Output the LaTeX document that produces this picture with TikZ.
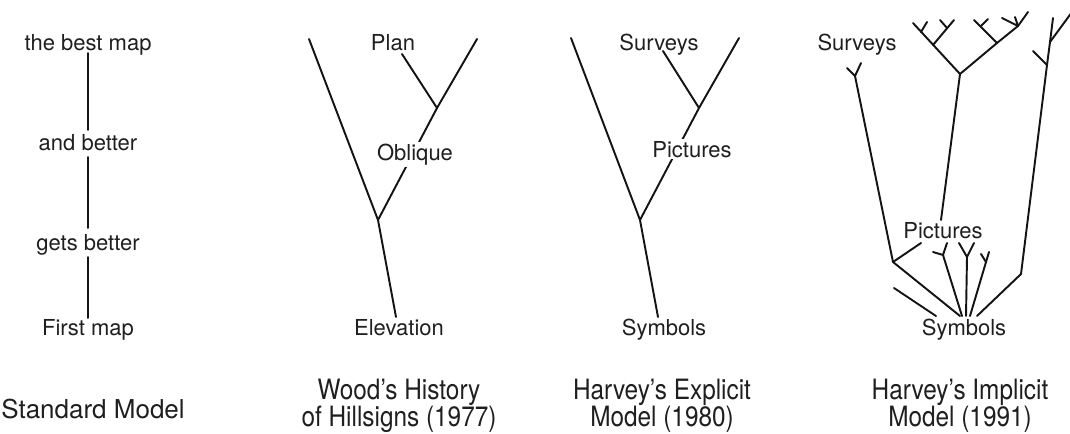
\documentclass[tikz,border=0pt]{standalone}
\usepackage{fontspec}
\setmainfont{TeX Gyre Heros}
\newfontfamily\condfont[FakeStretch=0.87]{TeX Gyre Heros}
\usetikzlibrary{calc}
\begin{document}
\begin{tikzpicture}[x=0.75pt,y=-0.75pt,
  lbl/.style={font=\fontsize{16.5}{19}\selectfont, inner sep=0pt, anchor=base, text=black!88},
  bglbl/.style={lbl, fill=white, inner sep=1.5pt},
  captxt/.style={font=\condfont\fontsize{21}{20}\selectfont, inner sep=0pt, anchor=base, align=center, text=black!88},
  stdcap/.style={font=\fontsize{19.5}{22}\selectfont, inner sep=0pt, anchor=base, text=black!88},
  br/.style={line width=1.45pt, line cap=round, line join=round, black!92}]
\useasboundingbox (0,0) rectangle (1070,433);

% ---------- Panel 1: Standard Model ----------
\node[lbl] (best) at (88,50) {the best map};
\node[lbl] (and) at (88,150) {and better};
\node[lbl] (gets) at (88,250) {gets better};
\node[lbl] (first) at (88,335) {First map};
\node[stdcap] (c1) at (93,418) {Standard Model};
\draw[br] ($(best.base)+(0,3)$) -- ($(and.base)+(0,-20)$);
\draw[br] ($(and.base)+(0,7)$) -- ($(gets.base)+(0,-22)$);
\draw[br] ($(gets.base)+(0,7)$) -- ($(first.base)+(0,-17)$);

% ---------- Panel 2: Wood ----------
\coordinate (wL) at (309,39);
\coordinate (wJ) at (378,220);
\coordinate (wB) at (396,317);
\coordinate (wK) at (437,108);
\coordinate (wR) at (477,39);
\coordinate (wP) at (402,54);
\draw[br] (wL) -- (wJ) -- (wB);
\draw[br] (wJ) -- (wK) -- (wR);
\draw[br] (wP) -- (wK);
\node[lbl] (plan) at (393,50) {Plan};
\node[bglbl] (obl) at (415,160) {Oblique};
\node[lbl] (elev) at (399,335) {Elevation};
\node[captxt] (c2) at (399,426) {Wood’s History\\of Hillsigns (1977)};

% ---------- Panel 3: Harvey explicit ----------
\coordinate (eL) at (571,38);
\coordinate (eJ) at (640,220);
\coordinate (eB) at (658,317);
\coordinate (eK) at (699,108);
\coordinate (eR) at (739,38);
\coordinate (eS) at (663,51);
\draw[br] (eL) -- (eJ) -- (eB);
\draw[br] (eJ) -- (eK) -- (eR);
\draw[br] (eS) -- (eK);
\node[lbl] (surv3) at (659,50) {Surveys};
\node[bglbl] (pict3) at (692,157) {Pictures};
\node[lbl] (symb3) at (664,335) {Symbols};
\node[captxt] (c3) at (662,426) {Harvey’s Explicit\\Model (1980)};

% ---------- Panel 4: Harvey implicit ----------
% left stem
\coordinate (aY) at (855,76);
\coordinate (aY1) at (847,68);
\coordinate (aY2) at (861,63);
\coordinate (aK) at (893,262);
\draw[br] (aY1) -- (aY) -- (aY2);
\draw[br] (aY) -- (aK);
\draw[br] (aK) -- (921,243);
\draw[br] (aK) -- (960,316);
\draw[br] (894,288) -- (936,316);
% fan
\coordinate (f1) at (943,255);
\draw[br] (933,252) -- (f1) -- (947,243);
\draw[br] (f1) -- (962,316);
\coordinate (f2) at (967,257);
\draw[br] (959,243) -- (f2) -- (974,243);
\draw[br] (f2) -- (966,316);
\coordinate (f3) at (986,262);
\draw[br] (970,316) -- (f3) -- (989,252);
\draw[br] (981,254) -- (f3);
% middle tree
\coordinate (mB) at (941,220);
\coordinate (mJ) at (960,74);
\coordinate (mL) at (913,23);
\coordinate (mLs) at (933,45);
\coordinate (mLt) at (921,32);
\coordinate (mLst) at (947,28);
\coordinate (mRs) at (997,43);
\coordinate (mRst) at (981,26);
\coordinate (mRb) at (1018,26);
\draw[br] (mB) -- (mJ);
\draw[br] (mJ) -- (mL);
\draw[br] (mLt) -- (927,22);
\draw[br] (mLs) -- (954,20);
\draw[br] (940,20) -- (mLst);
\draw[br] (mJ) -- (mRs) -- (mRb) -- (1028,12);
\draw[br] (mRs) -- (974,20);
\draw[br] (988,19) -- (mRst);
\draw[br] (1002,18) -- (mRb) -- (1015,17);
% right tree
\coordinate (rT) at (1053,18);
\coordinate (rS) at (1050,42);
\coordinate (rK) at (1047,65);
\coordinate (rB) at (1021,274);
\draw[br] (rT) -- (rS) -- (rK) -- (rB) -- (977,316);
\draw[br] (rS) -- (1072,12);
\draw[br] (1033,51) -- (rK);
\node[lbl] (surv4) at (857,50) {Surveys};
\node[lbl] (pict4) at (943,238) {Pictures};
\node[lbl] (symb4) at (964,335) {Symbols};
\node[captxt] (c4) at (960,426) {Harvey’s Implicit\\Model (1991)};
\end{tikzpicture}
\end{document}
